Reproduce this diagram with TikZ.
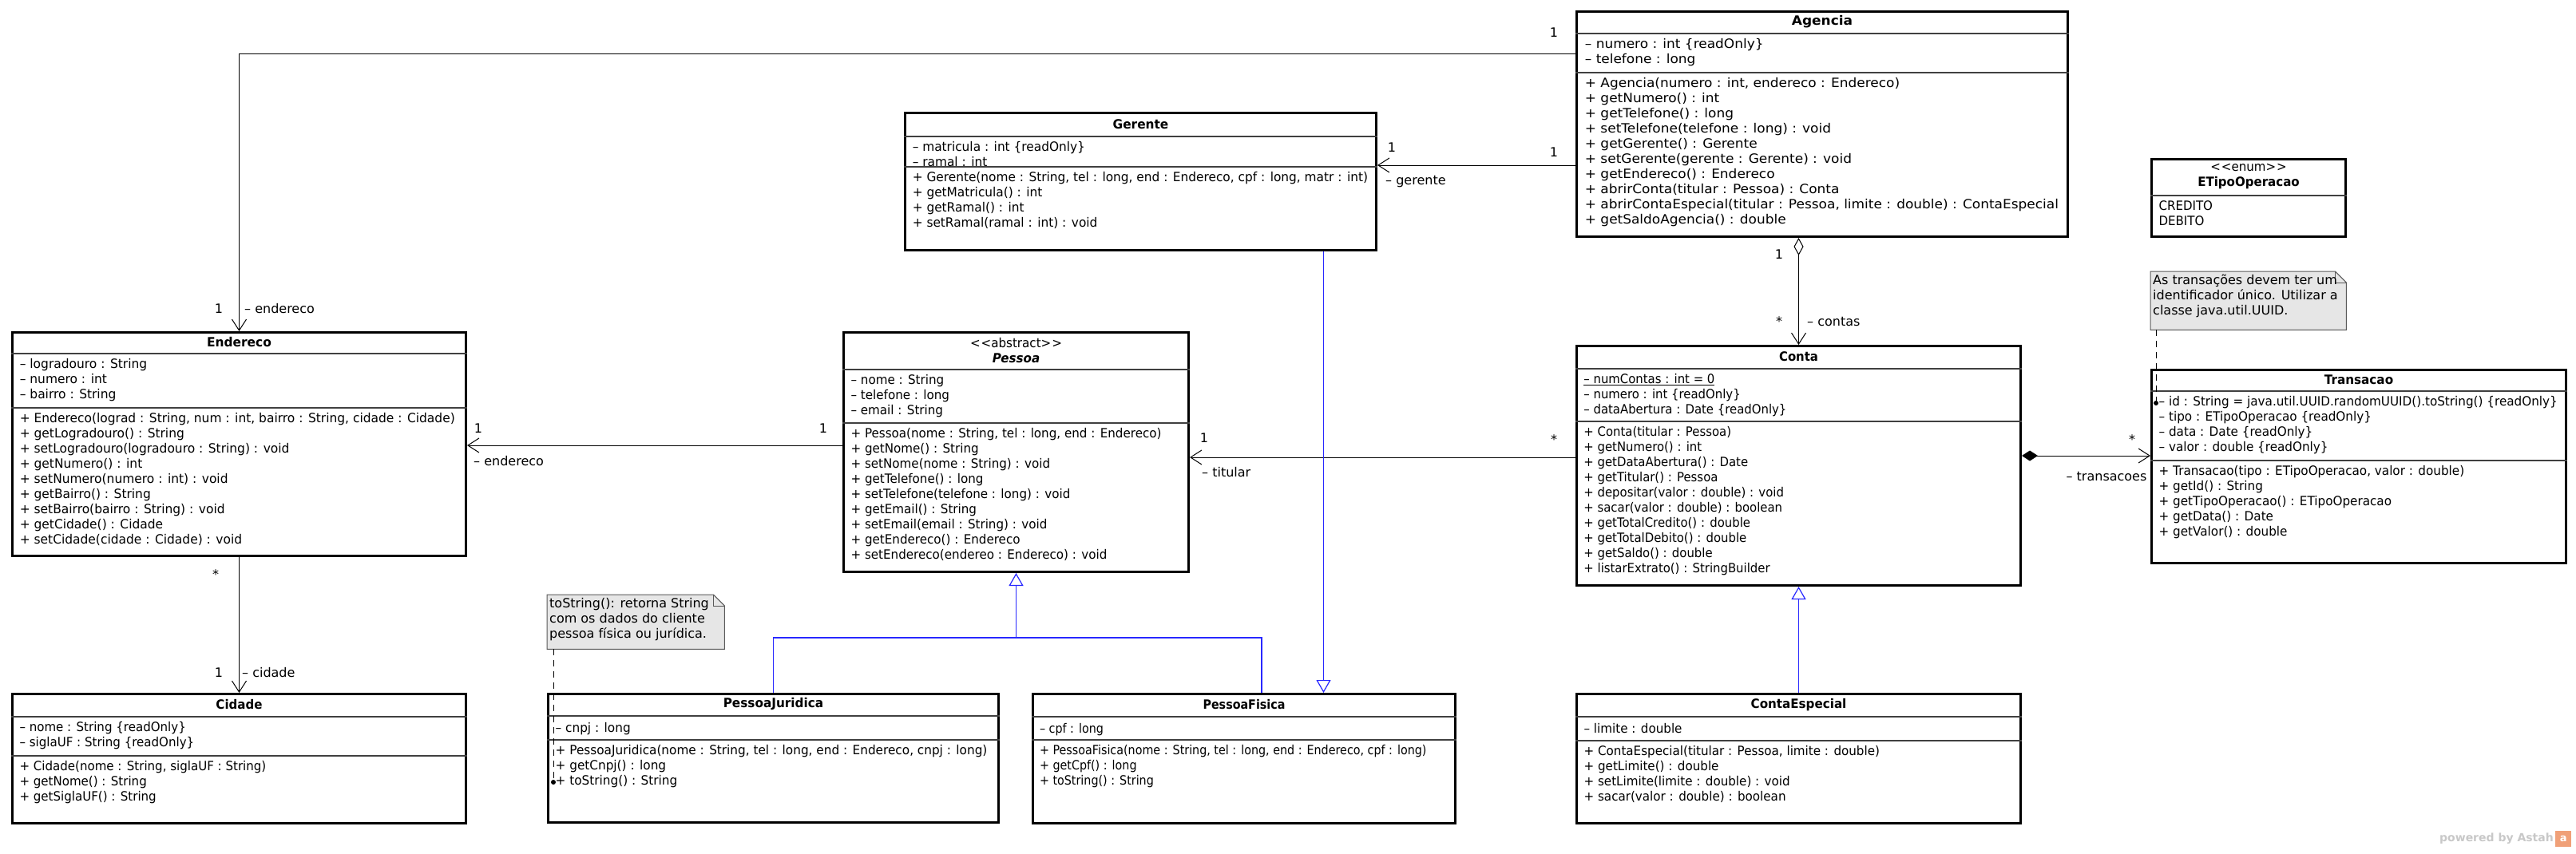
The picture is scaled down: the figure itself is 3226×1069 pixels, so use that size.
\documentclass[tikz,border=0pt]{standalone}
\usepackage{fontspec}
\setmainfont{DejaVu Sans}
\usetikzlibrary{arrows.meta,calc}
\definecolor{genblue}{RGB}{40,40,255}
\definecolor{notefill}{RGB}{230,230,230}
\definecolor{astahgray}{RGB}{200,200,200}
\definecolor{astahorange}{RGB}{240,160,120}
\newcommand\umlsize{\fontsize{16}{19}\selectfont}
% #1 text x-scale, #2 name, #3 header height, #4 attribute height, #5 header, #6 attributes, #7 operations
\newcommand\classparts[7][1]{%
  \coordinate (#2-h) at ([yshift=-#3pt]#2.north west);
  \coordinate (#2-a) at ([yshift=-#3pt-#4pt]#2.north west);
  \node[hdr, xscale=#1, transform shape] (#2-name) at ([yshift=-#3pt/2]#2.north) {#5};
  \draw[sepline] (#2-h) -- (#2-h -| #2.east);
  \draw[sepline] (#2-a) -- (#2-a -| #2.east);
  \node[list, xscale=#1, transform shape] (#2-attrs) at (#2-h) {#6};
  \node[list, xscale=#1, transform shape] (#2-ops) at (#2-a) {#7};
}
\newcommand\notebox[2]{%
  \draw[notedraw] (#1.north west) -- ([xshift=-14pt]#1.north east) -- ([yshift=-14pt]#1.north east) -- (#1.south east) -- (#1.south west) -- cycle;
  \draw[notedraw, fill=none] ([xshift=-14pt]#1.north east) -- ([xshift=-14pt,yshift=-14pt]#1.north east) -- ([yshift=-14pt]#1.north east);
  \node[notetext] (#1-text) at (#1.north west) {#2};
}
\tikzset{
  classbox/.style={draw=black, line width=3pt, fill=white, anchor=north west, inner sep=0pt},
  sepline/.style={line width=1.2pt, draw=black!75},
  hdr/.style={font=\umlsize, align=center, inner sep=0pt},
  list/.style={font=\umlsize, align=left, anchor=north west, inner xsep=11pt, inner ysep=6.5pt, execute at begin node=\strut},
  noteanchor/.style={anchor=north west, inner sep=0pt},
  notedraw/.style={draw=black!65, line width=1pt, fill=notefill},
  notetext/.style={font=\umlsize, align=left, anchor=north west, inner xsep=3pt, inner ysep=4pt, execute at begin node=\strut},
  assoc/.style={draw=black, line width=1pt},
  openarrow/.style={-{Straight Barb[length=14pt,width=18pt]}},
  gen/.style={draw=genblue, line width=1.2pt},
  gentip/.style={-{Triangle[open, length=16pt, width=18pt, fill=white]}},
  notelink/.style={draw=black, line width=1pt, dash pattern=on 8pt off 6pt},
  lbl/.style={font=\umlsize, inner sep=1pt},
}
\begin{document}
\begin{tikzpicture}[x=1pt, y=-1pt]
\useasboundingbox[fill=white] (0,0) rectangle (3226,1069);

% ---------- classes ----------
\node[classbox, minimum width=615pt, minimum height=282pt] (agencia) at (1973,13) {};
\classparts[1.06]{agencia}{29}{49}{\textbf{Agencia}}
{– numero : int \{readOnly\}\\– telefone : long}
{+ Agencia(numero : int, endereco : Endereco)\\+ getNumero() : int\\+ getTelefone() : long\\+ setTelefone(telefone : long) : void\\+ getGerente() : Gerente\\+ setGerente(gerente : Gerente) : void\\+ getEndereco() : Endereco\\+ abrirConta(titular : Pessoa) : Conta\\+ abrirContaEspecial(titular : Pessoa, limite : double) : ContaEspecial\\+ getSaldoAgencia() : double}

\node[classbox, minimum width=590pt, minimum height=172pt] (gerente) at (1132,140) {};
\classparts[0.96]{gerente}{31}{38}{\textbf{Gerente}}
{– matricula : int \{readOnly\}\\– ramal : int}
{+ Gerente(nome : String, tel : long, end : Endereco, cpf : long, matr : int)\\+ getMatricula() : int\\+ getRamal() : int\\+ setRamal(ramal : int) : void}

\node[classbox, minimum width=568pt, minimum height=280pt] (endereco) at (14,415) {};
\classparts[0.966]{endereco}{28}{68}{\textbf{Endereco}}
{– logradouro : String\\– numero : int\\– bairro : String}
{+ Endereco(lograd : String, num : int, bairro : String, cidade : Cidade)\\+ getLogradouro() : String\\+ setLogradouro(logradouro : String) : void\\+ getNumero() : int\\+ setNumero(numero : int) : void\\+ getBairro() : String\\+ setBairro(bairro : String) : void\\+ getCidade() : Cidade\\+ setCidade(cidade : Cidade) : void}

\node[classbox, minimum width=432pt, minimum height=300pt] (pessoa) at (1055,415) {};
\classparts[0.945]{pessoa}{48}{67}{<\kern1pt<abstract>\kern1pt>\\\textbf{\textit{Pessoa}}}
{– nome : String\\– telefone : long\\– email : String}
{+ Pessoa(nome : String, tel : long, end : Endereco)\\+ getNome() : String\\+ setNome(nome : String) : void\\+ getTelefone() : long\\+ setTelefone(telefone : long) : void\\+ getEmail() : String\\+ setEmail(email : String) : void\\+ getEndereco() : Endereco\\+ setEndereco(endereo : Endereco) : void}

\node[classbox, minimum width=556pt, minimum height=300pt] (conta) at (1973,432) {};
\classparts[0.93]{conta}{30}{66}{\textbf{Conta}}
{\underline{– numContas : int = 0}\\– numero : int \{readOnly\}\\– dataAbertura : Date \{readOnly\}}
{+ Conta(titular : Pessoa)\\+ getNumero() : int\\+ getDataAbertura() : Date\\+ getTitular() : Pessoa\\+ depositar(valor : double) : void\\+ sacar(valor : double) : boolean\\+ getTotalCredito() : double\\+ getTotalDebito() : double\\+ getSaldo() : double\\+ listarExtrato() : StringBuilder}

\node[classbox, minimum width=243pt, minimum height=97pt] (etipo) at (2693,198) {};
\coordinate (etipo-h) at ([yshift=-47pt]etipo.north west);
\node[hdr, xscale=0.94, transform shape] (etipo-name) at ([yshift=-23.5pt]etipo.north) {<\kern1pt<enum>\kern1pt>\\\textbf{ETipoOperacao}};
\draw[sepline] (etipo-h) -- (etipo-h -| etipo.east);
\node[list, xscale=0.94, transform shape] (etipo-lits) at (etipo-h) {CREDITO\\DEBITO};

\node[classbox, minimum width=519pt, minimum height=242pt] (transacao) at (2693,462) {};
\classparts[0.95]{transacao}{28}{87}{\textbf{Transacao}}
{– id : String = java.util.UUID.randomUUID().toString() \{readOnly\}\\– tipo : ETipoOperacao \{readOnly\}\\– data : Date \{readOnly\}\\– valor : double \{readOnly\}}
{+ Transacao(tipo : ETipoOperacao, valor : double)\\+ getId() : String\\+ getTipoOperacao() : ETipoOperacao\\+ getData() : Date\\+ getValor() : double}

\node[classbox, minimum width=568pt, minimum height=162pt] (cidade) at (14,868) {};
\classparts[0.94]{cidade}{30}{49}{\textbf{Cidade}}
{– nome : String \{readOnly\}\\– siglaUF : String \{readOnly\}}
{+ Cidade(nome : String, siglaUF : String)\\+ getNome() : String\\+ getSiglaUF() : String}

\node[classbox, minimum width=564pt, minimum height=161pt] (pj) at (685,868) {};
\classparts[0.955]{pj}{29}{30}{\textbf{PessoaJuridica}}
{– cnpj : long}
{+ PessoaJuridica(nome : String, tel : long, end : Endereco, cnpj : long)\\+ getCnpj() : long\\+ toString() : String}

\node[classbox, minimum width=529pt, minimum height=162pt] (pf) at (1292,868) {};
\classparts[0.894]{pf}{30}{29}{\textbf{PessoaFisica}}
{– cpf : long}
{+ PessoaFisica(nome : String, tel : long, end : Endereco, cpf : long)\\+ getCpf() : long\\+ toString() : String}

\node[classbox, minimum width=556pt, minimum height=162pt] (contaesp) at (1973,868) {};
\classparts[0.946]{contaesp}{30}{30}{\textbf{ContaEspecial}}
{– limite : double}
{+ ContaEspecial(titular : Pessoa, limite : double)\\+ getLimite() : double\\+ setLimite(limite : double) : void\\+ sacar(valor : double) : boolean}

% ---------- notes ----------
\node[noteanchor, minimum width=222pt, minimum height=68pt] (note1) at (685,745) {};
\notebox{note1}{toString(): retorna String\\com os dados do cliente\\pessoa física ou jurídica.}
\node[noteanchor, minimum width=245pt, minimum height=73pt] (note2) at (2693,340) {};
\notebox{note2}{As transações devem ter um\\identificador único. Utilizar a\\classe java.util.UUID.}

% ---------- associations ----------
\draw[assoc, openarrow] ([yshift=-54pt]agencia.north west) -| (endereco.north);
\draw[assoc, openarrow] ([yshift=-194pt]agencia.north west) coordinate (ag2) -- (ag2 -| gerente.east);
\draw[assoc, {Diamond[open, length=22pt, width=12pt, fill=white]}-{Straight Barb[length=14pt,width=18pt]}] (agencia.south -| conta.north) -- (conta.north);
\draw[assoc, openarrow] ([yshift=-141pt]conta.north west) coordinate (ct1) -- (ct1 -| pessoa.east);
\draw[assoc, openarrow] ([yshift=-143pt]pessoa.north west) coordinate (ps1) -- (ps1 -| endereco.east);
\draw[assoc, openarrow] (endereco.south) -- (cidade.north);
\draw[assoc, {Diamond[length=20pt, width=13pt]}-{Straight Barb[length=14pt,width=18pt]}] ([yshift=-139pt]conta.north east) coordinate (ct2) -- (ct2 -| transacao.west);

% ---------- generalizations ----------
\coordinate (genbar) at (pessoa.south |- 0,799);
\draw[gen] (pj.north) |- (genbar);
\draw[gen] ([xshift=22pt]pf.north) |- (genbar);
\draw[gen, gentip] (genbar) -- (pessoa.south);
\draw[gen, gentip] ([xshift=229pt]gerente.south) coordinate (gr1) -- (gr1 |- pf.north);
\draw[gen, gentip] (contaesp.north) -- (conta.south);

% ---------- note links ----------
\coordinate (n1end) at (693,980);
\draw[notelink] (note1.south west -| n1end) -- (n1end);
\fill (n1end) circle (3pt);
\coordinate (n2end) at (2700,505);
\draw[notelink] (note2.south west -| n2end) -- (n2end);
\fill (n2end) circle (3pt);

% ---------- labels ----------
\node[lbl] (l1) at (1946,41) {1};
\node[lbl] (l2) at (274,387) {1};
\node[lbl, anchor=west] (l3) at (305,387) {– endereco};
\node[lbl] (l4) at (1743,185) {1};
\node[lbl, anchor=west] (l5) at (1734,228) {– gerente};
\node[lbl] (l6) at (1946,191) {1};
\node[lbl] (l7) at (2228,319) {1};
\node[lbl] (l8) at (2228,403) {*};
\node[lbl, anchor=west] (l9) at (2262,403) {– contas};
\node[lbl] (l10) at (1508,549) {1};
\node[lbl, anchor=west] (l11) at (1504,592) {– titular};
\node[lbl] (l12) at (1946,551) {*};
\node[lbl] (l13) at (599,537) {1};
\node[lbl, anchor=west] (l14) at (592,578) {– endereco};
\node[lbl] (l15) at (1031,537) {1};
\node[lbl] (l16) at (270,720) {*};
\node[lbl] (l17) at (274,843) {1};
\node[lbl, anchor=west] (l18) at (302,843) {– cidade};
\node[lbl] (l19) at (2670,551) {*};
\node[lbl] (l20) at (2638,597) {– transacoes};

% ---------- footer ----------
\node[font=\fontsize{14}{16}\selectfont\bfseries, text=astahgray, anchor=east, inner sep=0pt] (powered) at (3198,1051) {powered by Astah};
\node[fill=astahorange, text=white, font=\fontsize{13}{14}\selectfont\bfseries, minimum size=20pt, inner sep=0pt, anchor=west] (logo) at (3200,1051) {a};
\end{tikzpicture}
\end{document}
